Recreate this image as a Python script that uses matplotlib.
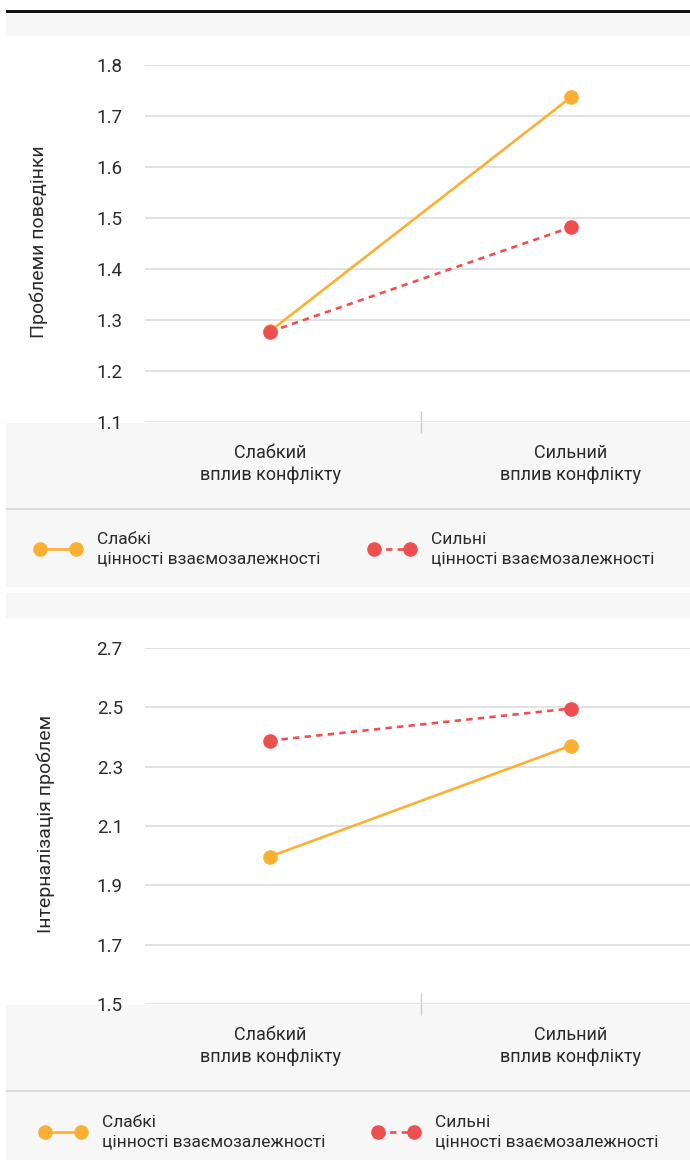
import matplotlib
matplotlib.use("Agg")
import matplotlib.pyplot as plt
from matplotlib.patches import Rectangle
from matplotlib.lines import Line2D

plt.rcParams['font.family'] = ['Roboto', 'DejaVu Sans']

categories = ["Слабкий\nвплив конфлікту", "Сильний\nвплив конфлікту"]
series_names = ["Слабкі\nцінності взаємозалежності", "Сильні\nцінності взаємозалежності"]

p1_weak = [1.278, 1.737]
p1_strong = [1.277, 1.482]
p1_ticks = [1.1, 1.2, 1.3, 1.4, 1.5, 1.6, 1.7, 1.8]
p1_label = "Проблеми поведінки"

p2_weak = [1.997, 2.371]
p2_strong = [2.388, 2.496]
p2_ticks = [1.5, 1.7, 1.9, 2.1, 2.3, 2.5, 2.7]
p2_label = "Інтерналізація проблем"

ORANGE = "#FBB034"
RED = "#EF4F4F"
GRAY_BG = "#F7F7F7"
GRID = "#E2E2E2"
TEXT = "#2A2A2A"

W, H = 690, 1160
fig = plt.figure(figsize=(W / 100, H / 100), dpi=100)

# background in pixel coordinates
bg = fig.add_axes([0, 0, 1, 1], zorder=0)
bg.set_xlim(0, W)
bg.set_ylim(H, 0)
bg.axis("off")

def band(y0, y1, color=GRAY_BG):
    bg.add_patch(Rectangle((6, y0), W - 6, y1 - y0, color=color, lw=0))

bg.add_patch(Rectangle((6, 10), W - 6, 2.5, color="#111111", lw=0))
band(13, 36)
band(423, 508)
bg.add_patch(Rectangle((6, 508), W - 6, 1.5, color="#DCDCDC", lw=0))
band(510, 587)
band(593, 618)
band(1005, 1090)
bg.add_patch(Rectangle((6, 1090), W - 6, 1.5, color="#DCDCDC", lw=0))
band(1092, 1160)

X_LEFT, X_RIGHT = 145, 690
CAT0, CAT1 = 270, 571
ppu = CAT1 - CAT0
xlim = (-(CAT0 - X_LEFT) / ppu, 1 + (X_RIGHT - CAT1) / ppu)

LEG_FS = 12.5

def make_panel(y_top, y_bot, ticks, weak, strong, ylabel, label_x, leg_y, leg_x1, leg_x2):
    ax = fig.add_axes([X_LEFT / W, 1 - y_bot / H, (X_RIGHT - X_LEFT) / W, (y_bot - y_top) / H],
                      zorder=2)
    ax.set_facecolor("none")
    ax.set_xlim(*xlim)
    ax.set_ylim(ticks[0], ticks[-1])
    for s in ax.spines.values():
        s.set_visible(False)
    ax.set_yticks(ticks)
    ax.set_yticklabels([f"{t:.1f}" for t in ticks])
    ax.yaxis.grid(True, color=GRID, lw=1.4)
    ax.set_axisbelow(True)
    ax.tick_params(axis="y", length=0, pad=16, labelsize=13.5, labelcolor=TEXT)
    ax.set_xticks([0, 1])
    ax.set_xticklabels(categories, linespacing=1.3)
    ax.tick_params(axis="x", length=0, pad=16, labelsize=13, labelcolor=TEXT)
    ax.set_xticks([0.5], minor=True)
    ax.tick_params(axis="x", which="minor", direction="inout", length=16, width=1, color="#CCCCCC")
    ax.set_ylabel(ylabel, fontsize=14, color=TEXT)
    ax.yaxis.set_label_coords(label_x, 0.505)

    x = [0, 1]
    ax.plot(x, weak, color=ORANGE, lw=1.9, marker="o", ms=9.5, zorder=3, clip_on=False)
    ax.plot(x, strong, color=RED, lw=1.9, ls=(0, (2.4, 2.0)), marker="o", ms=9.5, zorder=4,
            clip_on=False)

    h1 = Line2D([], [], color=ORANGE, lw=1.9, marker="o", ms=9.5)
    h2 = Line2D([], [], color=RED, lw=1.9, ls=(0, (2.4, 2.0)), marker="o", ms=9.5)
    for h, name, lx in [(h1, series_names[0], leg_x1), (h2, series_names[1], leg_x2)]:
        leg = fig.legend([h], [name], loc="center left",
                         bbox_to_anchor=(lx / W, 1 - leg_y / H), frameon=False,
                         numpoints=2, handlelength=2.64, handletextpad=0.91,
                         borderpad=0, borderaxespad=0, fontsize=LEG_FS, labelspacing=0)
        for t in leg.get_texts():
            t.set_linespacing(1.35)
            t.set_color(TEXT)
    return ax

make_panel(65, 422, p1_ticks, p1_weak, p1_strong, p1_label, -0.178, 549, 35, 369)
make_panel(648, 1004, p2_ticks, p2_weak, p2_strong, p2_label, -0.165, 1132, 40, 373)

fig.savefig("out.png", dpi=100)
